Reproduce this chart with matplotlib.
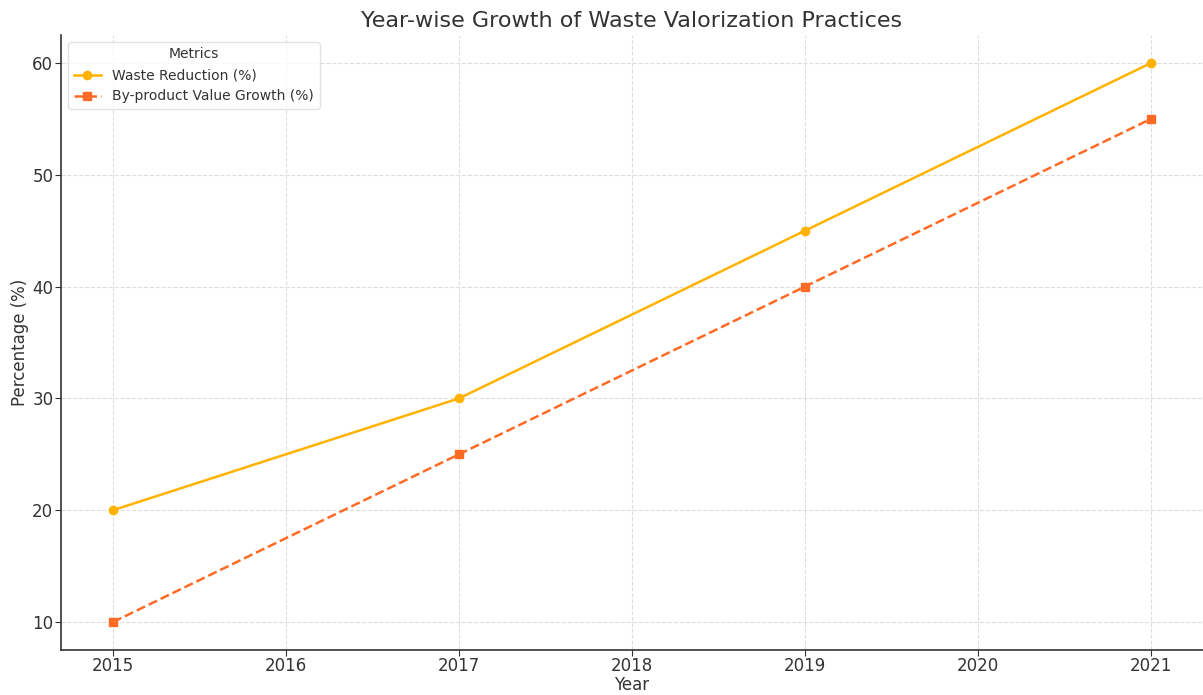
import matplotlib
matplotlib.use("Agg")
import matplotlib.pyplot as plt

years = [2015, 2017, 2019, 2021]
waste_reduction = [20, 30, 45, 60]
byproduct_growth = [10, 25, 40, 55]
year_ticks = [2015, 2016, 2017, 2018, 2019, 2020, 2021]

txt = "#333333"
plt.rcParams['font.family'] = ['DejaVu Sans']

fig = plt.figure(figsize=(12.03, 6.95), dpi=100)
ax = fig.add_axes([61 / 1203, 45 / 695, 1142 / 1203, 615 / 695])

ax.plot(years, waste_reduction, color="#FFB300", marker="o", markersize=6,
        linewidth=1.8, label="Waste Reduction (%)")
ax.plot(years, byproduct_growth, color="#FF6B25", marker="s", markersize=6,
        linewidth=1.8, linestyle="--", label="By-product Value Growth (%)")

ax.set_xticks(year_ticks)
ax.grid(True, linestyle="--", color="#DDDDDD", linewidth=0.8)
ax.set_axisbelow(True)
for s in ["top", "right"]:
    ax.spines[s].set_visible(False)
for s in ["left", "bottom"]:
    ax.spines[s].set_color(txt)
    ax.spines[s].set_linewidth(1.2)
ax.tick_params(colors=txt, labelsize=12, length=4)
ax.tick_params(axis="x", pad=1)
ax.tick_params(axis="y", pad=1.5)

ax.set_title("Year-wise Growth of Waste Valorization Practices", fontsize=16,
             color=txt, pad=6)
ax.set_xlabel("Year", fontsize=12, color=txt, labelpad=1)
ax.set_ylabel("Percentage (%)", fontsize=12, color=txt, labelpad=2)

leg = ax.legend(title="Metrics", loc="upper left", fontsize=10,
                title_fontsize=10, frameon=True, edgecolor="#DDDDDD")
for t in leg.get_texts():
    t.set_color(txt)
leg.get_title().set_color(txt)

fig.savefig("out.png", dpi=100)
